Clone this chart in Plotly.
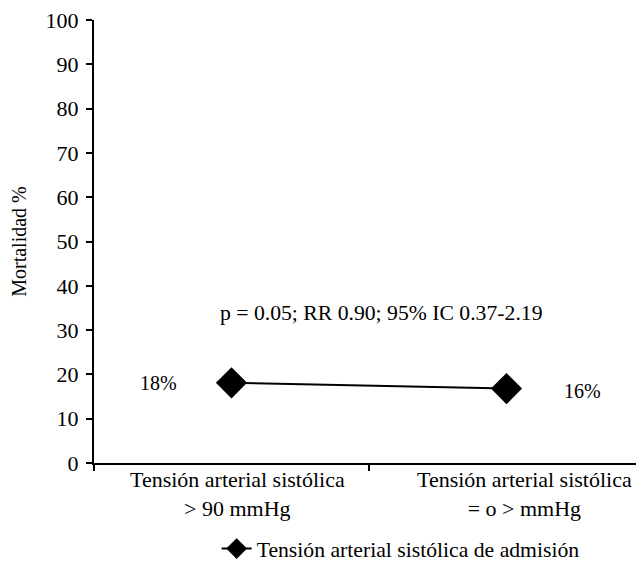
import plotly.graph_objects as go

categories = ["Tensión arterial sistólica<br>> 90 mmHg", "Tensión arterial sistólica<br>= o > mmHg"]
category_shift = [6, 18]
mortality = [18.1, 16.8]
point_labels = ["18%", "16%"]
series_name = "Tensión arterial sistólica de admisión"
stats_text = "p = 0.05; RR 0.90; 95% IC 0.37-2.19"
y_ticks = [0, 10, 20, 30, 40, 50, 60, 70, 80, 90, 100]

FONT = "Liberation Serif, Times New Roman, serif"
FS = 21.7
OFF = 8  # page body margin
H = 561 - OFF
W = 644 - OFF

fig = go.Figure()
fig.add_trace(go.Scatter(
    x=categories, y=mortality, mode="lines+markers", name=series_name,
    line=dict(color="black", width=2),
    marker=dict(symbol="diamond", size=24, color="black"),
    showlegend=True,
))

for cat, sh in zip(categories, category_shift):
    fig.add_annotation(x=cat, y=0, yref="y", text=cat, showarrow=False,
                       yanchor="top", xshift=sh, yshift=-2,
                       font=dict(family=FONT, size=22, color="black"))

fig.add_annotation(x=categories[0], y=mortality[0], text=point_labels[0], showarrow=False,
                   xshift=-73, font=dict(family=FONT, size=20, color="black"))
fig.add_annotation(x=categories[1], y=mortality[1], text=point_labels[1], showarrow=False,
                   xshift=76, yshift=-2, font=dict(family=FONT, size=20, color="black"))
fig.add_annotation(x=0.5, xref="x", y=33.8, text=stats_text, showarrow=False,
                   xshift=12, font=dict(family=FONT, size=FS, color="black"))

fig.update_layout(
    width=W, height=H,
    margin=dict(l=94 - OFF, r=0, t=20 - OFF, b=H - (463 - OFF), autoexpand=False),
    paper_bgcolor="white", plot_bgcolor="white",
    font=dict(family=FONT, size=FS, color="black"),
    legend=dict(orientation="h", xref="paper", x=0.223, xanchor="left",
                yref="container", y=1 - (549 - OFF) / H, yanchor="middle",
                font=dict(family=FONT, size=FS, color="black")),
    xaxis=dict(
        type="category", range=[-0.5, 1.5], tickson="boundaries",
        ticks="outside", ticklen=6, tickwidth=2, tickcolor="black",
        showline=True, linecolor="black", linewidth=2, showgrid=False,
        automargin=False, showticklabels=False,
    ),
    yaxis=dict(
        range=[0, 100], tickvals=y_ticks, ticks="outside", ticklen=6, tickwidth=2,
        tickcolor="black", showline=True, linecolor="black", linewidth=2,
        showgrid=False, zeroline=False, automargin=False, ticklabelstandoff=3,
        ticklabeloverflow="allow",
        title=dict(text="Mortalidad %", font=dict(family=FONT, size=20, color="black"), standoff=25),
        tickfont=dict(family=FONT, size=22, color="black"),
    ),
)

fig.write_html("out.html")
